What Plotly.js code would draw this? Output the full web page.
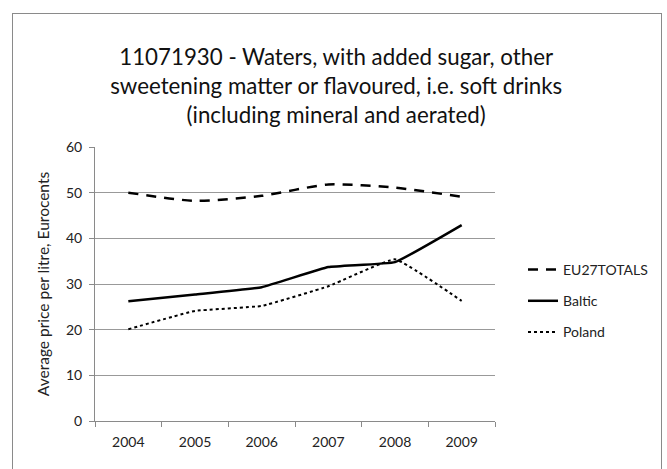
<!DOCTYPE html>
<html>
<head>
<meta charset="utf-8">
<script src="https://cdn.plot.ly/plotly-3.0.1.min.js"></script>
<style>
  html, body { margin: 0; padding: 0; background: #ffffff; }
  #frame { position: absolute; left: 12px; top: 13px; width: 650px; height: 470px; border: 1px solid #8a8a8a; box-sizing: border-box; }
  #chart { position: absolute; left: 0; top: 0; width: 667px; height: 469px; }
</style>
</head>
<body>
<div id="frame"></div>
<div id="chart"></div>
<script>
const years = ['2004', '2005', '2006', '2007', '2008', '2009'];
const eu27Totals = [50.0, 48.2, 49.3, 51.8, 51.1, 49.1];
const baltic = [26.2, 27.7, 29.3, 33.7, 34.8, 42.9];
const poland = [20.1, 24.1, 25.2, 29.5, 35.4, 26.3];
const yTicks = [0, 10, 20, 30, 40, 50, 60];

const FONT = 'Lato, "Open Sans", sans-serif';

const traces = [
  { x: years, y: eu27Totals, name: 'EU27TOTALS', type: 'scatter', mode: 'lines', legendgroup: 'a',
    line: { color: '#000000', width: 2.5, dash: '10px,8px', shape: 'spline', smoothing: 0.6 } },
  { x: years, y: baltic, name: 'Baltic', type: 'scatter', mode: 'lines', legendgroup: 'b',
    line: { color: '#000000', width: 2.5, shape: 'spline', smoothing: 0.3 } },
  { x: years, y: poland, name: 'Poland', type: 'scatter', mode: 'lines', legendgroup: 'c',
    line: { color: '#000000', width: 2, dash: 'dot', shape: 'spline', smoothing: 0.3 } }
];

const layout = {
  width: 667, height: 469,
  paper_bgcolor: 'rgba(0,0,0,0)', plot_bgcolor: 'rgba(0,0,0,0)',
  font: { family: FONT, size: 14, color: '#222222' },
  margin: { l: 95, r: 172, t: 147, b: 48 },
  title: {
    text: '11071930 - Waters, with added sugar, other<br>sweetening matter or flavoured, i.e. soft drinks<br>(including mineral and aerated)',
    font: { family: FONT, size: 22.3, color: '#111111' },
    x: 0.504, xanchor: 'center', y: 0.862, yanchor: 'top', yref: 'container'
  },
  xaxis: {
    type: 'category', range: [-0.5, 5.5], tickson: 'boundaries', ticks: 'outside', ticklen: 5, tickcolor: '#8a8a8a',
    showline: true, linecolor: '#8a8a8a', linewidth: 1, showgrid: false, zeroline: false,
    ticklabelstandoff: 8,
    tickfont: { family: FONT, size: 14, color: '#222222' }, fixedrange: true
  },
  yaxis: {
    range: [0, 60], tickvals: yTicks, ticktext: yTicks.map(String), ticks: 'outside', ticklen: 5, tickcolor: '#8a8a8a',
    showline: true, linecolor: '#8a8a8a', linewidth: 1, showgrid: true, gridcolor: '#999999', gridwidth: 1, zeroline: false,
    ticklabelstandoff: 4,
    tickfont: { family: FONT, size: 14, color: '#222222' },
    title: { text: 'Average price per litre, Eurocents', font: { family: FONT, size: 15.5, color: '#222222' }, standoff: 12 },
    fixedrange: true
  },
  legend: {
    x: 1.07, xanchor: 'left', y: 0.438, yanchor: 'middle', traceorder: 'grouped', tracegroupgap: 10,
    font: { family: FONT, size: 14, color: '#222222' }, bgcolor: 'rgba(0,0,0,0)'
  },
  showlegend: true
};

Plotly.newPlot('chart', traces, layout, { displayModeBar: false, staticPlot: true });
</script>
</body>
</html>
